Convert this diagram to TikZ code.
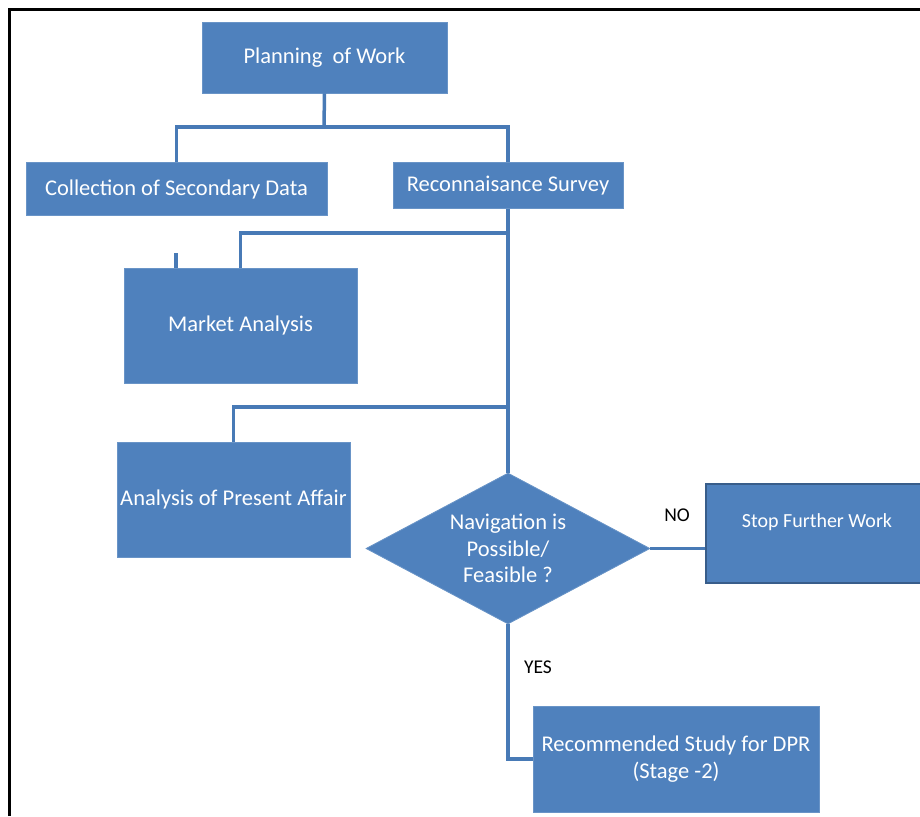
\documentclass[tikz,border=0pt]{standalone}
\usepackage{fontspec}
\setmainfont{Carlito}
\usetikzlibrary{shapes.geometric}
\definecolor{boxblue}{RGB}{79,129,189}
\definecolor{lineblue}{RGB}{72,122,182}
\definecolor{edgeblue}{RGB}{56,93,138}

\begin{document}
\begin{tikzpicture}[x=1pt, y=-1pt,
	every node/.style={font=\fontsize{22.5}{26.5}\selectfont, align=center},
	box/.style={rectangle, fill=boxblue, draw=boxblue!85!white, line width=0.8pt, text=white, inner sep=0pt},
	link/.style={lineblue, line width=3.5pt}]
		\useasboundingbox (0,0) rectangle (920,816);
		\clip (0,0) rectangle (920,816);

		\node[box, minimum width=245, minimum height=71] (b1) at (324.5,57.5) {Planning\ \ of Work};
		\node[box, minimum width=301, minimum height=53] (b2) at (176.5,189) {Collection of Secondary Data};
		\node[box, minimum width=230, minimum height=46] (b3) at (508,185.5) {Reconnaisance Survey};
		\node[box, minimum width=233, minimum height=115] (b4) at (240.5,325.5) {Market Analysis};
		\node[box, minimum width=233, minimum height=115] (b5) at (233.5,499.5) {Analysis of Present Affair};
		\node[box, diamond, aspect=1.88, minimum width=284, minimum height=151] (d1) at (508,548.5) {Navigation is\\Possible/\\Feasible ?};
		\node[box, draw=edgeblue, line width=2.8pt, minimum width=222, minimum height=99, font=\fontsize{20}{26}\selectfont] (b6) at (817,533.5) {Stop Further Work\\ \mbox{}};
		\node[box, minimum width=286, minimum height=106] (b7) at (676,759) {Recommended Study for DPR\\(Stage -2)};

		\node[font=\fontsize{19.5}{22}\selectfont] (l1) at (677,515) {NO};
		\node[font=\fontsize{19.5}{22}\selectfont] (l2) at (538,667) {YES};

		\coordinate (j1) at (324,127);
		\coordinate (j2) at (508,233);
		\coordinate (j3) at (508,407);
		\coordinate (s1) at (176,253);

		\draw[link] (b1.south) -- (j1);
		\draw[link] (b2.north) |- (j1) -| (b3.north);
		\draw[link] (b3.south) -- (d1.north);
		\draw[link] (b4.north) |- (j2);
		\draw[link] (b5.north) |- (j3);
		\draw[link] (s1) -- (s1 |- b4.north);
		\draw[link] (d1.east) -- (d1.east -| b6.west);
		\draw[link] (d1.south) |- (b7.west);

		% frame
		\draw[line width=3.5pt] (9.5,816) -- (9.5,9.5) -- (920,9.5);

	\end{tikzpicture}
\end{document}
